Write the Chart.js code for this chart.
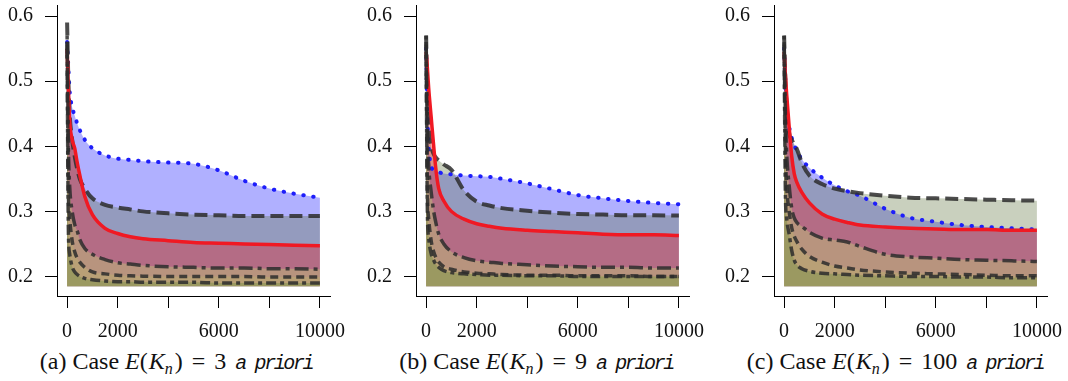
<!DOCTYPE html>
<html>
<head>
<meta charset="utf-8">
<script src="https://cdn.jsdelivr.net/npm/chart.js@4.4.1/dist/chart.umd.min.js"></script>
<style>
  body { margin: 0; background: #fff; width: 1068px; height: 381px; position: relative; overflow: hidden; font-family: "Liberation Serif", serif; }
  .panel { position: absolute; top: 0; width: 350px; height: 345px; }
  .cap { position: absolute; top: 347px; width: 360px; text-align: center; font-size: 24px; line-height: 28px; white-space: nowrap; color: #111; }
  .eq { margin: 0 9px; }
  .tt { font-family: "Liberation Mono", monospace; font-style: italic; font-size: 20px; letter-spacing: -2.4px; margin-left: 9px; }
  .k { margin-left: 1px; }
  sub { font-size: 16px; vertical-align: -5px; line-height: 0; margin-right: 2px; }
</style>
</head>
<body>
<div class="panel" style="left:0px"><canvas id="ca" width="350" height="345"></canvas></div>
<div class="panel" style="left:359px"><canvas id="cb" width="350" height="345"></canvas></div>
<div class="panel" style="left:717px"><canvas id="cc" width="350" height="345"></canvas></div>
<div class="cap" style="left:-4px">(a) Case <i>E</i>(<i class="k">K</i><sub><i>n</i></sub>)<span class="eq">=</span>3<span class="tt">a priori</span></div>
<div class="cap" style="left:356px">(b) Case <i>E</i>(<i class="k">K</i><sub><i>n</i></sub>)<span class="eq">=</span>9<span class="tt">a priori</span></div>
<div class="cap" style="left:715px">(c) Case <i>E</i>(<i class="k">K</i><sub><i>n</i></sub>)<span class="eq">=</span>100<span class="tt">a priori</span></div>
<script>
const xs = [0, 50, 100, 200, 300, 400, 500, 700, 1000, 1500, 2000, 2500, 3000, 4000, 5000, 6000, 7000, 8000, 9000, 10000];
const xTicks = [0, 2000, 4000, 6000, 8000, 10000];
const xLabels = ['0', '2000', '', '6000', '', '10000'];
const yTicks = [0.2, 0.3, 0.4, 0.5, 0.6];
const baseline = 0.185;

// panel (a)
const dottedA   = [0.56, 0.52, 0.485, 0.46, 0.447, 0.435, 0.425, 0.41, 0.397, 0.386, 0.381, 0.379, 0.377, 0.375, 0.373, 0.363, 0.347, 0.335, 0.327, 0.321];
const dashedA   = [0.59, 0.50, 0.45, 0.41, 0.385, 0.365, 0.35, 0.335, 0.32, 0.31, 0.306, 0.303, 0.300, 0.297, 0.295, 0.294, 0.293, 0.293, 0.293, 0.293];
const solidA    = [0.55, 0.49, 0.44, 0.41, 0.397, 0.375, 0.356, 0.323, 0.295, 0.274, 0.266, 0.261, 0.258, 0.255, 0.252, 0.251, 0.25, 0.249, 0.248, 0.247];
const dotdashA  = [0.57, 0.40, 0.34, 0.30, 0.28, 0.27, 0.257, 0.243, 0.234, 0.226, 0.221, 0.219, 0.217, 0.215, 0.214, 0.213, 0.213, 0.212, 0.212, 0.211];
const shortA    = [0.56, 0.33, 0.29, 0.255, 0.238, 0.228, 0.222, 0.214, 0.207, 0.204, 0.202, 0.201, 0.2005, 0.2, 0.2, 0.2, 0.2, 0.199, 0.199, 0.199];
const twodashA  = [0.55, 0.27, 0.235, 0.215, 0.207, 0.203, 0.2, 0.197, 0.195, 0.193, 0.192, 0.192, 0.191, 0.191, 0.191, 0.19, 0.19, 0.19, 0.19, 0.19];

// panel (b)
const dottedB   = [0.55, 0.45, 0.40, 0.37, 0.363, 0.361, 0.36, 0.358, 0.357, 0.355, 0.354, 0.353, 0.35, 0.343, 0.334, 0.325, 0.32, 0.316, 0.313, 0.311];
const dashedB   = [0.57, 0.47, 0.43, 0.40, 0.388, 0.382, 0.378, 0.372, 0.364, 0.332, 0.315, 0.309, 0.305, 0.301, 0.298, 0.296, 0.295, 0.294, 0.294, 0.2935];
const solidB    = [0.545, 0.52, 0.49, 0.445, 0.40, 0.36, 0.335, 0.316, 0.30, 0.288, 0.281, 0.277, 0.274, 0.271, 0.269, 0.267, 0.265, 0.264, 0.264, 0.263];
const dotdashB  = [0.57, 0.42, 0.37, 0.33, 0.30, 0.28, 0.265, 0.25, 0.238, 0.229, 0.224, 0.222, 0.22, 0.218, 0.216, 0.215, 0.214, 0.214, 0.213, 0.213];
const shortB    = [0.56, 0.33, 0.29, 0.255, 0.238, 0.228, 0.222, 0.215, 0.211, 0.207, 0.205, 0.204, 0.203, 0.202, 0.202, 0.201, 0.201, 0.201, 0.2, 0.2];
const twodashB  = [0.55, 0.30, 0.26, 0.235, 0.225, 0.218, 0.214, 0.209, 0.206, 0.204, 0.203, 0.202, 0.202, 0.201, 0.201, 0.2, 0.2, 0.2, 0.2, 0.2];

// panel (c)
const dottedC   = [0.55, 0.50, 0.46, 0.43, 0.413, 0.402, 0.393, 0.38, 0.367, 0.352, 0.34, 0.331, 0.324, 0.304, 0.29, 0.284, 0.279, 0.276, 0.274, 0.272];
const dashedC   = [0.57, 0.50, 0.46, 0.42, 0.41, 0.403, 0.396, 0.375, 0.355, 0.342, 0.335, 0.331, 0.328, 0.324, 0.321, 0.32, 0.319, 0.318, 0.317, 0.3165];
const solidC    = [0.545, 0.51, 0.48, 0.43, 0.385, 0.358, 0.345, 0.329, 0.313, 0.296, 0.288, 0.283, 0.279, 0.276, 0.274, 0.273, 0.272, 0.272, 0.271, 0.271];
const dotdashC  = [0.57, 0.45, 0.39, 0.34, 0.305, 0.29, 0.283, 0.277, 0.268, 0.259, 0.256, 0.253, 0.246, 0.234, 0.23, 0.228, 0.226, 0.225, 0.224, 0.223];
const shortC    = [0.56, 0.40, 0.34, 0.30, 0.275, 0.262, 0.254, 0.242, 0.231, 0.222, 0.216, 0.213, 0.21, 0.207, 0.205, 0.204, 0.203, 0.202, 0.201, 0.201];
const twodashC  = [0.55, 0.33, 0.29, 0.265, 0.24, 0.225, 0.218, 0.212, 0.208, 0.205, 0.204, 0.203, 0.202, 0.201, 0.2, 0.2, 0.199, 0.199, 0.198, 0.198];

const dark = 'rgba(45,45,45,0.85)';
const looks = [
  { line: 'rgb(30,30,250)', fill: 'rgba(0,0,255,0.31)', dash: [0.5, 9.5], width: 4, cap: 'round', order: 6 },
  { line: dark, fill: 'rgba(91,113,58,0.33)', dash: [13, 6], width: 4, cap: 'butt', order: 5 },
  { line: 'rgb(240,25,35)', fill: 'rgba(255,0,0,0.3)', dash: [], width: 3.5, cap: 'butt', order: 4 },
  { line: dark, fill: 'rgba(190,190,120,0.5)', dash: [4, 5, 14, 5], width: 3.5, cap: 'butt', order: 3 },
  { line: dark, fill: 'rgba(190,190,100,0.3)', dash: [8, 5], width: 3.5, cap: 'butt', order: 2 },
  { line: dark, fill: 'rgba(120,145,70,0.45)', dash: [10, 4, 4, 4], width: 3.5, cap: 'butt', order: 1 }
];

const font = { family: '"Liberation Serif", "Times New Roman", serif', size: 20 };

function makeChart(id, series) {
  const datasets = series.map((vals, i) => ({
    data: xs.map((x, j) => ({ x: x, y: vals[j] })),
    borderColor: looks[i].line,
    backgroundColor: looks[i].fill,
    borderDash: looks[i].dash,
    borderCapStyle: looks[i].cap,
    borderWidth: looks[i].width,
    order: looks[i].order,
    fill: { value: baseline },
    pointRadius: 0,
    cubicInterpolationMode: 'monotone'
  }));
  new Chart(document.getElementById(id), {
    type: 'line',
    data: { datasets: datasets },
    options: {
      responsive: false,
      animation: false,
      layout: { padding: { top: 5, right: 20, left: 0, bottom: 0 } },
      plugins: { legend: { display: false }, tooltip: { enabled: false }, filler: { drawTime: 'beforeDatasetsDraw' } },
      scales: {
        x: {
          type: 'linear', min: -400, max: 10400,
          afterBuildTicks: s => { s.ticks = xTicks.map(v => ({ value: v })); },
          afterFit: s => { s.height = 49; s.paddingLeft = 0; s.paddingRight = 0; },
          ticks: { callback: (v, i) => xLabels[i], font: font, color: '#111', padding: 12, maxRotation: 0, autoSkip: false },
          grid: { drawOnChartArea: false, drawTicks: true, tickLength: 12, color: '#000' },
          border: { display: true, color: '#000', width: 1 }
        },
        y: {
          min: 0.17, max: 0.617,
          afterBuildTicks: s => { s.ticks = yTicks.map(v => ({ value: v })); },
          afterFit: s => { s.width = 57; s.paddingTop = 0; s.paddingBottom = 0; },
          ticks: { callback: v => v.toFixed(1), font: font, color: '#111', padding: 12 },
          grid: { drawOnChartArea: false, drawTicks: true, tickLength: 12, color: '#000' },
          border: { display: true, color: '#000', width: 1 }
        }
      }
    }
  });
}

makeChart('ca', [dottedA, dashedA, solidA, dotdashA, shortA, twodashA]);
makeChart('cb', [dottedB, dashedB, solidB, dotdashB, shortB, twodashB]);
makeChart('cc', [dottedC, dashedC, solidC, dotdashC, shortC, twodashC]);
</script>
</body>
</html>
